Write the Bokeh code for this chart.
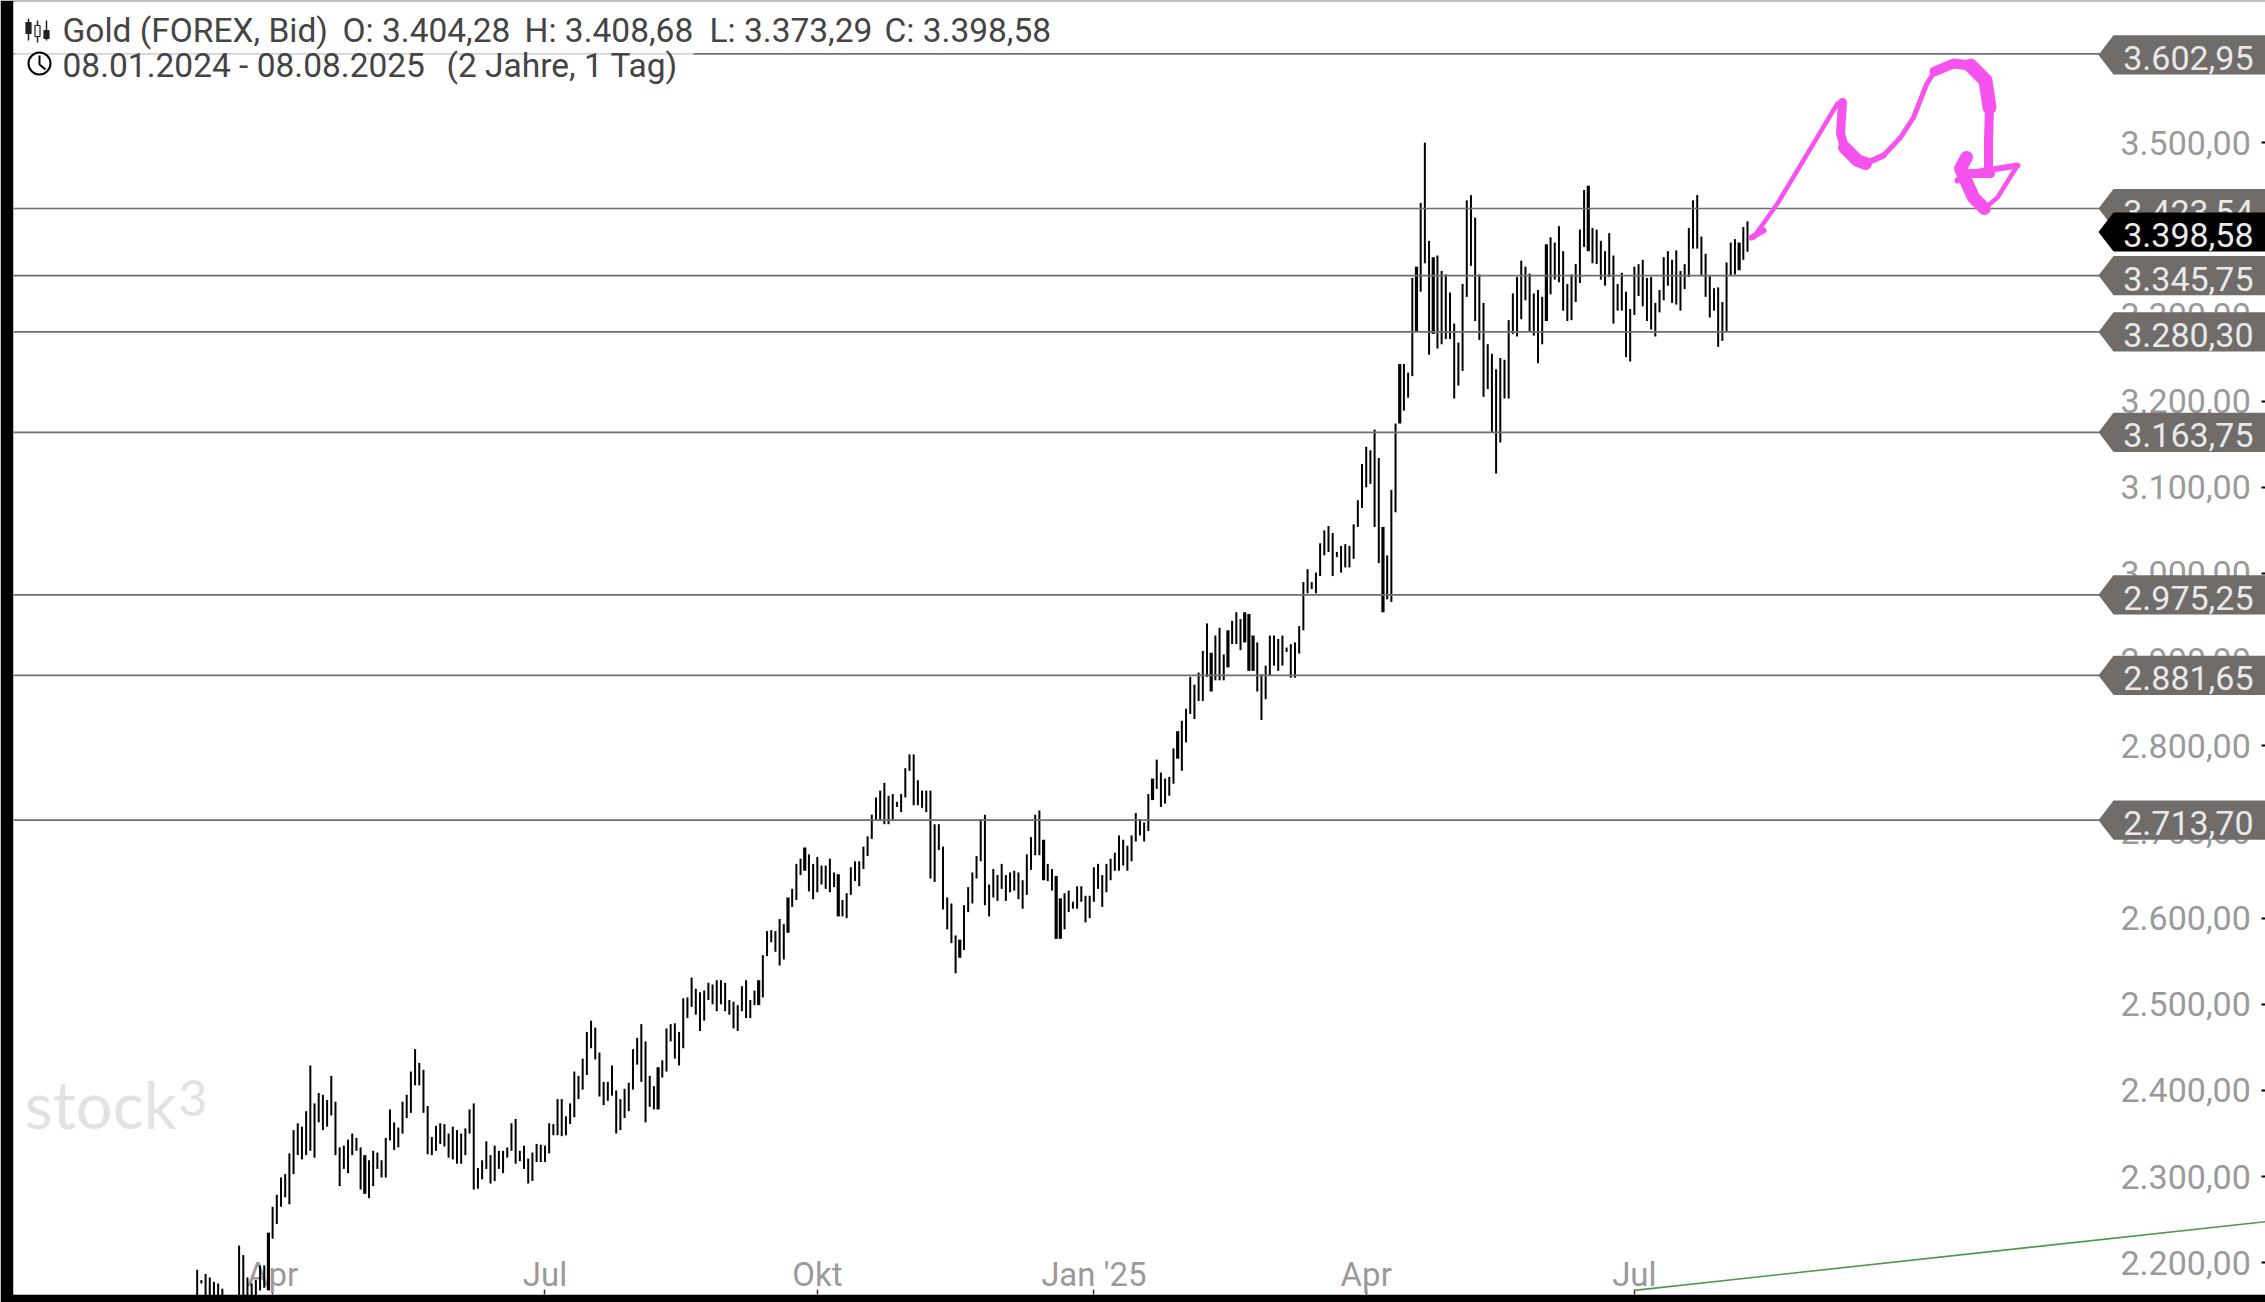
from bokeh.plotting import figure
from bokeh.models import FixedTicker, Range1d, LinearAxis, ColumnDataSource
from bokeh.core.properties import value
from bokeh.embed import file_html
from bokeh.resources import INLINE

# ---- data -----------------------------------------------------------------
bar_high = [2192,2180,2187,2183,2178,2176,2170,2150,2150,2150,2220,2209,2183,2176,2180,2197,2197,2235,2265,2279,
 2299,2303,2327,2354,2362,2358,2376,2429,2385,2397,2395,2389,2417,2387,2334,2336,2343,2350,2345,2334,
 2325,2319,2330,2328,2319,2345,2378,2363,2357,2387,2395,2422,2448,2432,2424,2382,2346,2359,2362,
 2361,2350,2358,2354,2350,2356,2378,2385,2310,2319,2341,2325,2336,2330,2330,2334,2362,2367,2330,2336,
 2321,2328,2338,2337,2336,2362,2361,2390,2390,2370,2385,2422,2417,2437,2468,2481,2473,2444,2410,2410,
 2429,2400,2390,2402,2409,2448,2461,2477,2457,2417,2405,2427,2435,2472,2477,2478,2468,2507,2508,2531,
 2518,2514,2516,2525,2523,2528,2528,2525,2505,2503,2499,2521,2528,2505,2516,2528,2557,2585,2586,2585,
 2599,2593,2624,2634,2663,2669,2682,2674,2663,2671,2661,2661,2669,2653,2651,2621,2629,2659,2666,2666,
 2683,2695,2720,2740,2748,2757,2742,2744,2735,2744,2774,2790,2790,2760,2748,2748,2748,2709,2709,2683,
 2624,2617,2580,2575,2615,2636,2653,2672,2715,2720,2639,2657,2650,2663,2650,2653,2655,2653,2644,2674,
 2694,2720,2725,2691,2663,2657,2649,2623,2629,2632,2619,2637,2637,2626,2626,2659,2663,2650,2663,2669,
 2676,2696,2691,2684,2696,2722,2715,2711,2744,2762,2784,2769,2762,2764,2797,2817,2829,2843,2880,2871,
 2885,2910,2942,2908,2928,2937,2906,2934,2945,2955,2947,2955,2953,2928,2920,2883,2893,2928,2928,2924,
 2928,2914,2918,2920,2939,2990,3005,2990,3001,3035,3050,3055,3047,3025,3032,3034,3032,3057,3085,3127,
 3147,3143,3167,3134,3054,3021,3097,3174,3243,3243,3233,3343,3356,3430,3500,3386,3367,3369,3351,3347,
 3326,3290,3268,3336,3433,3439,3413,3347,3314,3266,3255,3237,3250,3248,3294,3325,3344,3363,3356,3348,
 3325,3329,3321,3382,3390,3384,3403,3374,3336,3347,3359,3399,3445,3450,3401,3399,3386,3374,3395,3369,
 3336,3349,3327,3307,3356,3359,3364,3343,3344,3314,3329,3367,3374,3364,3375,3351,3359,3401,3433,3439,
 3391,3371,3345,3331,3332,3315,3361,3384,3388,3384,3402,3408.68]
bar_low = [2140,2176,2140,2140,2140,2140,2140,2130,2130,2130,2140,2140,2140,2140,2140,2168,2171,2168,2228,2245,
 2265,2276,2268,2303,2325,2320,2325,2330,2322,2363,2354,2358,2371,2325,2289,2309,2304,2325,2330,2285,
 2280,2275,2289,2309,2299,2299,2342,2331,2334,2350,2368,2374,2406,2406,2374,2326,2325,2330,2338,
 2335,2322,2320,2315,2315,2325,2350,2285,2286,2297,2309,2292,2295,2309,2304,2322,2330,2315,2318,2309,
 2292,2295,2317,2317,2317,2327,2348,2348,2347,2348,2361,2369,2390,2401,2418,2449,2436,2393,2383,2388,
 2394,2350,2354,2368,2376,2401,2430,2410,2363,2381,2378,2378,2415,2422,2457,2437,2429,2449,2484,2497,
 2488,2469,2481,2505,2500,2492,2500,2492,2488,2472,2469,2492,2484,2484,2499,2499,2508,2556,2572,2561,
 2545,2552,2583,2613,2621,2650,2655,2631,2622,2630,2639,2634,2630,2636,2602,2602,2600,2627,2643,2637,
 2657,2672,2692,2714,2714,2709,2709,2714,2729,2723,2740,2771,2731,2731,2728,2723,2646,2642,2679,2610,
 2587,2571,2536,2554,2563,2607,2617,2646,2666,2615,2602,2624,2620,2634,2620,2630,2632,2622,2611,2627,
 2656,2673,2673,2644,2643,2632,2576,2576,2587,2607,2611,2611,2619,2595,2600,2619,2634,2613,2630,2644,
 2655,2655,2661,2655,2666,2689,2696,2689,2701,2737,2750,2729,2733,2742,2756,2785,2771,2804,2837,2831,
 2852,2852,2880,2863,2876,2876,2876,2891,2918,2918,2911,2920,2887,2887,2863,2830,2854,2882,2893,2887,
 2893,2909,2879,2879,2907,2934,2977,2982,2977,2997,3021,3025,2997,3019,3001,3007,3007,3017,3054,3076,
 3100,3104,3054,3012,2955,2970,2967,3071,3174,3189,3204,3229,3281,3327,3360,3254,3278,3261,3266,3272,
 3272,3203,3218,3235,3321,3357,3293,3271,3205,3214,3163,3116,3152,3203,3203,3278,3275,3295,3317,3281,
 3276,3244,3266,3293,3324,3341,3338,3305,3293,3294,3315,3337,3379,3374,3360,3359,3341,3334,3344,3290,
 3305,3305,3251,3246,3300,3322,3310,3293,3283,3275,3303,3317,3334,3314,3312,3305,3330,3344,3377,3377,
 3345,3321,3297,3305,3263,3270,3281,3346,3347,3352,3364,3373.29]
heavy_bars = [17, 40, 110, 134, 141, 145, 153, 182, 202, 205, 206, 228, 234, 242, 246, 250, 251, 252,
              283, 287, 291, 295, 322, 332, 368]

level_prices = [2713.70, 2881.65, 2975.25, 3163.75, 3280.30, 3345.75, 3423.54, 3602.95]
level_labels = ["2.713,70", "2.881,65", "2.975,25", "3.163,75", "3.280,30", "3.345,75", "3.423,54", "3.602,95"]
last_price = 3398.58
last_label = "3.398,58"

y_ticks = [2200, 2300, 2400, 2500, 2600, 2700, 2800, 2900, 3000, 3100, 3200, 3300, 3400, 3500]
y_tick_labels = ["2.200,00", "2.300,00", "2.400,00", "2.500,00", "2.600,00", "2.700,00", "2.800,00",
                 "2.900,00", "3.000,00", "3.100,00", "3.200,00", "3.300,00", "3.400,00", "3.500,00"]
x_ticks = [18, 83, 148, 214, 279, 343]
x_tick_labels = ["Apr", "Jul", "Okt", "Jan '25", "Apr", "Jul"]

trend_x = [343, 494]
trend_y = [2168, 2248]

header_row1 = ["Gold (FOREX, Bid)", "O: 3.404,28", "H: 3.408,68", "L: 3.373,29", "C: 3.398,58"]
header_row2 = ["08.01.2024 - 08.08.2025", "(2 Jahre, 1 Tag)"]

# ---- page geometry (reference pixels) --------------------------------------
W, H = 2265, 1302
FL, FR, FT, FB = 13.0, 2265.0, 1.0, 1294.0
BAR0_PX, BAR_DX = 196.7, 4.19
Y0_PX, Y0_P, PX_PER_UNIT = 208.0, 3423.54, 0.8617

def X(px):
    return (px - BAR0_PX) / BAR_DX

def Y(py):
    return Y0_P - (py - Y0_PX) / PX_PER_UNIT

FONT = value("Roboto")

p = figure(width=W, height=H, output_backend="svg", toolbar_location=None,
           x_range=Range1d(X(FL), X(FR)), y_range=Range1d(Y(FB), Y(FT)),
           x_axis_location=None, y_axis_location=None,
           min_border_left=13, min_border_right=0, min_border_top=1, min_border_bottom=8,
           border_fill_color="black", background_fill_color="white", outline_line_color=None)
p.xgrid.visible = False
p.ygrid.visible = False

# real axes, labels pulled back inside the frame
ax_r = LinearAxis(ticker=FixedTicker(ticks=y_ticks),
                  major_label_overrides=dict(zip(y_ticks, y_tick_labels)))
ax_r.axis_line_color = None
ax_r.major_tick_in = 4
ax_r.major_tick_out = 0
ax_r.minor_tick_line_color = None
ax_r.major_tick_line_color = "black"
ax_r.major_tick_line_width = 2
ax_r.major_label_standoff = -145
ax_r.major_label_text_color = "#9a9a9a"
ax_r.major_label_text_font = "Roboto"
ax_r.major_label_text_font_size = "34px"
p.add_layout(ax_r, "right")

ax_b = LinearAxis(ticker=FixedTicker(ticks=x_ticks),
                  major_label_overrides=dict(zip(x_ticks, x_tick_labels)))
ax_b.axis_line_color = None
ax_b.major_tick_in = 5
ax_b.major_tick_out = 0
ax_b.minor_tick_line_color = None
ax_b.major_tick_line_color = "#333333"
ax_b.major_tick_line_width = 1.5
ax_b.major_label_standoff = -40
ax_b.major_label_text_color = "#9a9a9a"
ax_b.major_label_text_font = "Roboto"
ax_b.major_label_text_font_size = "33px"
p.add_layout(ax_b, "below")

# watermark
p.text([X(24)], [Y(1103)], text=["stock"], text_font=value("Lato"), text_font_size="65px",
       text_color="#e2e2e2", text_baseline="middle", text_align="left")
p.text([X(178)], [Y(1097)], text=["3"], text_font=value("Lato"), text_font_size="50px",
       text_color="#e2e2e2", text_baseline="middle", text_align="left")

# bars
idx = list(range(len(bar_high)))
bar_w = [3.2 if i in heavy_bars else 2.0 for i in idx]
p.segment(x0="i", y0="lo", x1="i", y1="hi", line_color="black", line_width="w", level="overlay",
          source=ColumnDataSource(dict(i=idx, lo=bar_low, hi=bar_high, w=bar_w)))

# trend line
p.line(trend_x, trend_y, line_color="#4c9a4c", line_width=1.6, level="overlay")

# horizontal levels
p.segment([X(FL)] * len(level_prices), level_prices, [X(2100)] * len(level_prices), level_prices,
          line_color="#6e6e6e", line_width=1.7, level="overlay")

# header mask over the top level line
p.quad(left=[X(14)], right=[X(693)], top=[Y(48)], bottom=[Y(58)], fill_color="white",
       fill_alpha=0.7, line_color=None, level="overlay")

# price tags
def tag(price, label, fill, py_shift=0.0):
    h = 19.6 / PX_PER_UNIT
    c = price - py_shift / PX_PER_UNIT
    p.patch([X(2098), X(2113), X(FR), X(FR), X(2113)],
            [c, c + h, c + h, c - h, c - h],
            fill_color=fill, line_color=None, level="overlay")
    p.text([X(2253)], [c - 3.0 / PX_PER_UNIT], text=[label], text_font=FONT, text_font_size="34px",
           text_color="#e9e9e9", text_align="right", text_baseline="middle", level="overlay")

for lp, ll in zip(level_prices, level_labels):
    if lp != 3602.95:
        tag(lp, ll, "#6f6c6a")
tag(3602.95, "3.602,95", "#6f6c6a", 1.0)
tag(last_price, last_label, "black", 2.0)

# header
row1_x = [62, 342, 524, 709, 884]
p.text([X(v) for v in row1_x], [Y(30)] * 5, text=header_row1, text_font=FONT, text_font_size="33.5px",
       text_color="#444444", text_baseline="middle", level="overlay")
row2_x = [62, 446]
p.text([X(v) for v in row2_x], [Y(65)] * 2, text=header_row2, text_font=FONT, text_font_size="33.5px",
       text_color="#444444", text_baseline="middle", level="overlay")

# header icons
p.segment([X(v) for v in (28, 37, 46)], [Y(18), Y(20), Y(20)], [X(v) for v in (28, 37, 46)],
          [Y(40), Y(42), Y(40)], line_color="#222222", line_width=1.5, level="overlay")
p.quad(left=[X(v) for v in (25.5, 34.5, 43.5)], right=[X(v) for v in (30.5, 39.5, 48.5)],
       top=[Y(22), Y(25), Y(30)], bottom=[Y(33), Y(36), Y(38)], fill_color=["#222222", "white", "#222222"],
       line_color="#222222", line_width=1.2, level="overlay")
p.scatter([X(39)], [Y(63)], marker="circle", size=22, fill_color="white", line_color="black",
          line_width=2, level="overlay")
p.multi_line([[X(39), X(39), X(45)]], [[Y(55), Y(64), Y(69)]], line_color="black", line_width=2, level="overlay")

# hand-drawn pink arrow: reference pixels, pen width
pen = [
 ([(1753, 237), (1777, 203), (1807, 153), (1837, 103)], 4.5),
 ([(1751, 237), (1763, 230)], 6),
 ([(1842, 102), (1840, 133), (1844, 147)], 9),
 ([(1844, 147), (1857, 160), (1865, 163)], 13),
 ([(1865, 163), (1883, 155)], 6),
 ([(1883, 155), (1900, 137), (1913, 117), (1926, 84), (1934, 71)], 5),
 ([(1934, 71), (1953, 63), (1970, 65)], 10),
 ([(1970, 65), (1985, 80), (1989, 107)], 14),
 ([(1989, 107), (1988, 140), (1988, 173)], 9),
 ([(1957, 180), (1973, 172), (2017, 165)], 6),
 ([(1962, 173), (1990, 173)], 9),
 ([(1966, 157), (1960, 168), (1973, 197), (1984, 208)], 13),
 ([(1984, 208), (1997, 197), (2017, 165)], 4.5),
]
pen_xs = [[X(a) for a, _ in s] for s, _ in pen]
pen_ys = [[Y(b) for _, b in s] for s, _ in pen]
pen_w = [w for _, w in pen]
p.multi_line(xs="xs", ys="ys", line_width="w", line_color="#f652ee", line_cap="round", line_join="round",
             level="overlay", source=ColumnDataSource(dict(xs=pen_xs, ys=pen_ys, w=pen_w)))

open("out.html", "w").write(file_html(p, INLINE))
